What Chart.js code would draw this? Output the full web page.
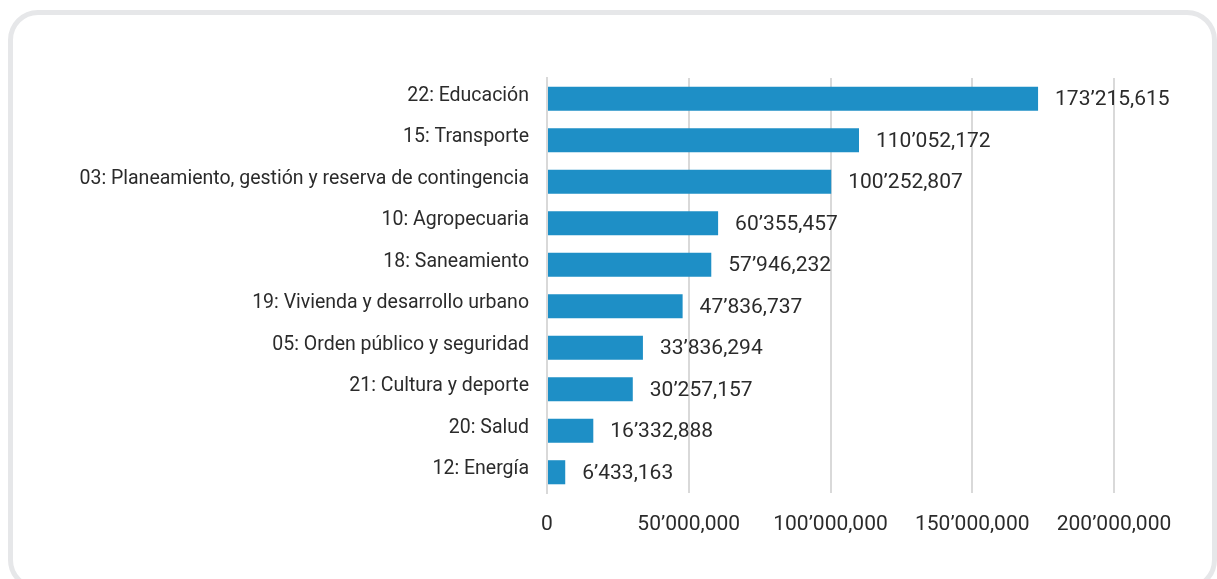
<!DOCTYPE html>
<html lang="es">
<head>
<meta charset="utf-8">
<title>Presupuesto por función</title>
<script src="https://cdn.jsdelivr.net/npm/chart.js@4.4.1/dist/chart.umd.min.js"></script>
<style>
  html, body { margin: 0; padding: 0; background: #fff; }
  body { width: 1217px; height: 579px; position: relative; overflow: hidden; }
  .card {
    position: absolute; left: 8px; top: 10px; width: 1209px; height: 580px;
    border: 5px solid #e6e7e9; border-radius: 30px; box-sizing: border-box;
  }
  #wrap { position: absolute; left: 0; top: 0; width: 1217px; height: 579px; }
</style>
</head>
<body>
<div class="card"></div>
<div id="wrap"><canvas id="funcChart"></canvas></div>
<script>
const categories = [
  "22: Educación",
  "15: Transporte",
  "03: Planeamiento, gestión y reserva de contingencia",
  "10: Agropecuaria",
  "18: Saneamiento",
  "19: Vivienda y desarrollo urbano",
  "05: Orden público y seguridad",
  "21: Cultura y deporte",
  "20: Salud",
  "12: Energía"
];
const amounts = [173215615, 110052172, 100252807, 60355457, 57946232, 47836737, 33836294, 30257157, 16332888, 6433163];
const tickValues = [0, 50000000, 100000000, 150000000, 200000000];

const FONT = "Roboto, 'Noto Sans', sans-serif";
const TEXT = "#2b2b2b";

// 173215615 -> 173’215,615
function fmt(n) {
  const s = Math.round(n).toString();
  const parts = [];
  for (let i = s.length; i > 0; i -= 3) parts.unshift(s.slice(Math.max(0, i - 3), i));
  if (parts.length <= 1) return s;
  const last = parts.pop();
  return parts.join("’") + "," + last;
}

const valueLabels = {
  id: "valueLabels",
  afterDatasetsDraw(chart) {
    const ctx = chart.ctx;
    const meta = chart.getDatasetMeta(0);
    ctx.save();
    ctx.font = "21px " + FONT;
    ctx.fillStyle = TEXT;
    ctx.textAlign = "left";
    ctx.textBaseline = "middle";
    meta.data.forEach((bar, i) => {
      ctx.fillText(fmt(amounts[i]), bar.x + 17, bar.y + 1);
    });
    ctx.restore();
  }
};

const ctx = document.getElementById("funcChart").getContext("2d");
new Chart(ctx, {
  type: "bar",
  data: {
    labels: categories,
    datasets: [{
      data: amounts,
      backgroundColor: "#1e8fc6",
      barPercentage: 0.58,
      categoryPercentage: 1
    }]
  },
  options: {
    indexAxis: "y",
    responsive: true,
    maintainAspectRatio: false,
    animation: false,
    layout: { padding: { top: 78, right: 103, left: 0, bottom: 0 } },
    plugins: {
      legend: { display: false },
      tooltip: { enabled: false }
    },
    scales: {
      x: {
        min: 0,
        max: 200000000,
        afterBuildTicks(scale) {
          scale.ticks = tickValues.map(v => ({ value: v }));
        },
        afterFit(scale) { scale.height = 86; },
        grid: { color: "#d9d9d9", lineWidth: 2, drawTicks: false },
        border: { display: false },
        ticks: {
          padding: 19,
          color: TEXT,
          font: { family: FONT, size: 21 },
          callback: v => fmt(v)
        }
      },
      y: {
        afterFit(scale) { scale.width = 547; },
        grid: { display: false, drawTicks: false },
        border: { display: true, color: "#d9d9d9", width: 2 },
        ticks: {
          padding: 18,
          labelOffset: -3,
          color: TEXT,
          font: { family: FONT, size: 19.5 }
        }
      }
    }
  },
  plugins: [valueLabels]
});
</script>
</body>
</html>
